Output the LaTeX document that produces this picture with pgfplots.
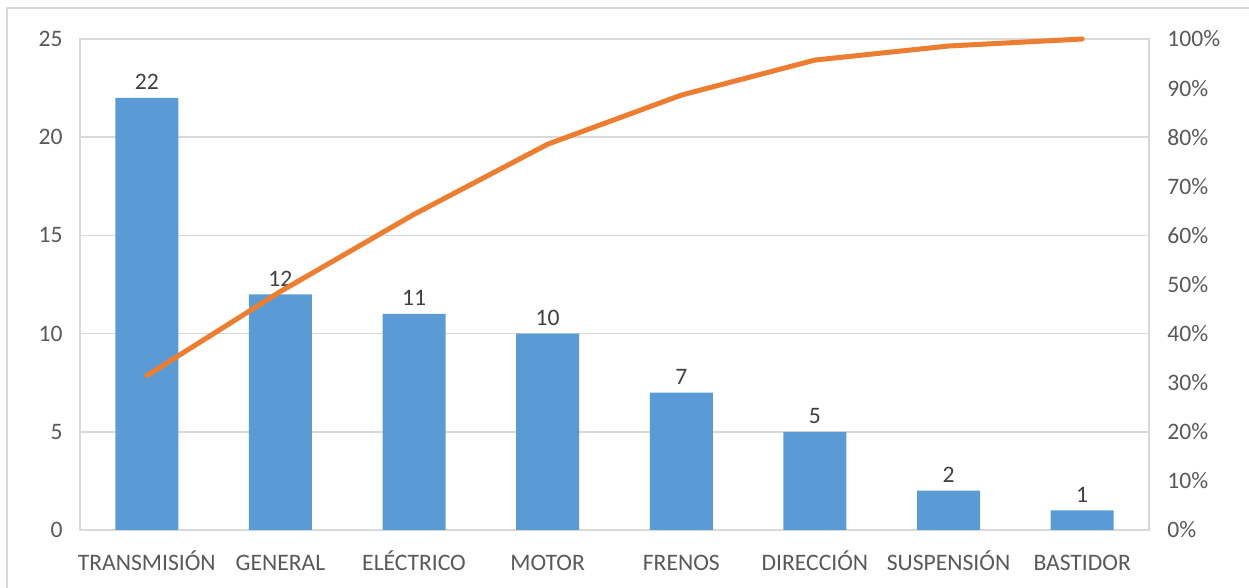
\documentclass[border=0pt]{standalone}
\usepackage{fontspec}
\setmainfont{Carlito}
\usepackage{pgfplots}
\usepackage{pgfplotstable}
\pgfplotsset{compat=1.18}

\definecolor{barblue}{HTML}{5B9BD5}
\definecolor{lineorange}{HTML}{ED7D31}
\definecolor{gridgray}{HTML}{D9D9D9}
\definecolor{labelgray}{HTML}{595959}
\definecolor{valgray}{HTML}{404040}

% failures per system and cumulative share (%)
\pgfplotstableread{
idx count cumpct
0 22 31.43
1 12 48.57
2 11 64.29
3 10 78.57
4 7 88.57
5 5 95.71
6 2 98.57
7 1 100
}\paretodata

\newcommand{\lblfont}{\fontsize{11.8}{14}\selectfont}

\begin{document}
\begin{tikzpicture}[x=1pt,y=1pt]
\useasboundingbox (0,0) rectangle (624.5,294);
\draw[gridgray, line width=0.75pt] (3.5,290) rectangle (700,-20);

\begin{axis}[
  at={(40pt,29pt)}, anchor=south west,
  scale only axis, width=534.5pt, height=245.5pt,
  xmin=-0.5, xmax=7.5, ymin=0, ymax=25,
  ybar=0pt, bar width=31.5pt,
  xtick={0,...,7},
  xticklabels={TRANSMISIÓN,GENERAL,ELÉCTRICO,MOTOR,FRENOS,DIRECCIÓN,SUSPENSIÓN,BASTIDOR},
  ytick={0,5,...,25},
  major tick length=0pt,
  ymajorgrids,
  grid style={gridgray, line width=0.75pt},
  axis line style={gridgray, line width=0.75pt},
  tick label style={font=\lblfont, text=labelgray},
  /pgf/number format/assume math mode=true,
  xticklabel style={anchor=base, yshift=-20.5pt, inner sep=0pt},
  yticklabel style={inner sep=0pt, xshift=-8.5pt},
  nodes near coords,
  every node near coord/.append style={font=\lblfont, text=valgray, inner sep=0pt, yshift=3.8pt},
]
\addplot[fill=barblue, draw=none] table[x=idx, y=count] {\paretodata};
\end{axis}

\begin{axis}[
  at={(40pt,29pt)}, anchor=south west,
  scale only axis, width=534.5pt, height=245.5pt,
  xmin=-0.5, xmax=7.5, ymin=0, ymax=100,
  axis y line*=right, axis x line=none,
  ytick={0,10,...,100},
  yticklabels={0\%,10\%,20\%,30\%,40\%,50\%,60\%,70\%,80\%,90\%,100\%},
  major tick length=0pt,
  axis line style={gridgray, line width=0.75pt},
  tick label style={font=\lblfont, text=labelgray},
  yticklabel style={inner sep=0pt, xshift=9pt},
  clip=false,
]
\addplot[lineorange, line width=2.5pt, line join=round, line cap=round, mark=none]
  table[x=idx, y=cumpct] {\paretodata};
\end{axis}
\end{tikzpicture}
\end{document}
